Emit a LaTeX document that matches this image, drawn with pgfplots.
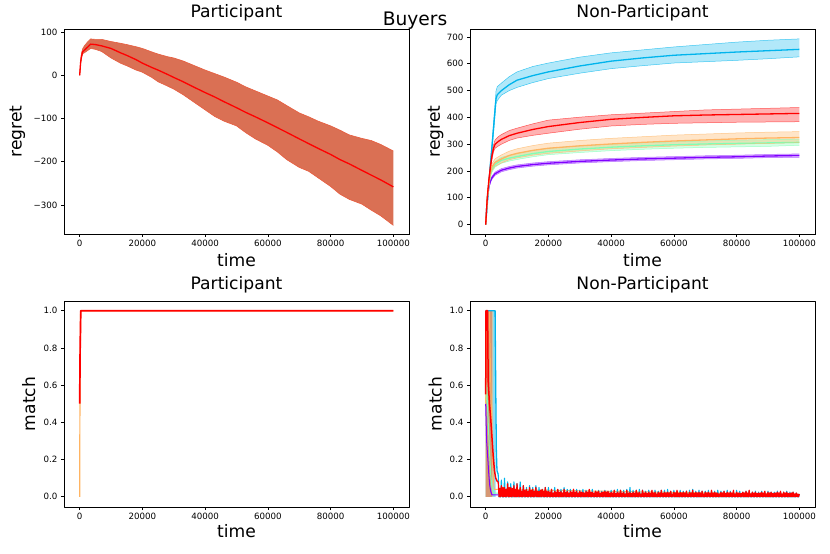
\documentclass[border=0pt]{standalone}
\usepackage{pgfplots}
\pgfplotsset{compat=1.18}
\usepackage{pgfplotstable}
\usepgfplotslibrary{fillbetween}
\usepackage{fontspec}
\setmainfont{DejaVu Sans}

\definecolor{cpur}{RGB}{128,0,255}
\definecolor{cblu}{RGB}{0,180,236}
\definecolor{cgrn}{RGB}{128,255,180}
\definecolor{corg}{RGB}{255,180,98}
\definecolor{cred}{RGB}{255,0,0}
\definecolor{cband}{RGB}{218,112,84}
\definecolor{cedge}{RGB}{232,92,62}

\pgfplotstableread{
t m lo hi
0 0 0 0
300 30 25 35
600 45 40 52
1000 55 50 62
1500 58 52 68
2500 65 57 77
3500 72 62 84
5000 71 60 83
7000 68 55 83
10000 62 40 78
13000 52 28 74
15000 46 22 71
18000 36 12 66
20000 28 7 62
23000 18 -5 54
25000 12 -15 49
28000 2 -25 43
30000 -5 -32 40
33000 -15 -45 33
36000 -26 -60 24
40000 -40 -80 12
43000 -50 -95 4
46000 -61 -106 -4
50000 -75 -117 -16
53000 -86 -133 -27
56000 -96 -147 -36
60000 -110 -162 -48
63000 -121 -177 -57
66000 -132 -195 -70
70000 -147 -213 -87
73000 -158 -222 -96
76000 -169 -237 -106
80000 -183 -257 -117
83000 -195 -275 -127
86000 -205 -287 -138
90000 -220 -298 -146
93000 -231 -312 -151
96000 -242 -325 -160
100000 -258 -347 -175
}\tlp

\pgfplotstableread{
t m lo hi
0 0 0 0
250 50 48 52
500 90 86 94
1000 140 135 145
1500 162 156 168
2000 175 169 181
3000 190 184 196
5000 203 197 209
7500 211 205 217
10000 217 211 223
15000 224 218 230
20000 229 223 235
30000 236 230 242
40000 241 235 247
50000 245 239 251
60000 248 242 254
70000 251 245 257
80000 253 247 259
90000 256 250 262
100000 258 251 264
}\tpur

\pgfplotstableread{
t m lo hi
0 0 0 0
500 75 70 80
1000 150 140 160
1500 225 212 238
2000 290 275 305
2500 360 340 380
3000 430 410 450
3300 470 452 500
3700 485 463 515
5000 500 483 528
7500 522 500 552
10000 539 512 570
15000 556 530 590
20000 570 545 603
30000 592 565 625
40000 610 582 641
50000 622 593 652
60000 632 603 663
70000 638 608 672
80000 644 613 681
90000 649 619 688
100000 654 626 693
}\tblu

\pgfplotstableread{
t m lo hi
0 0 0 0
250 50 48 52
500 95 90 100
1000 150 143 157
1500 185 177 193
2000 205 196 214
3000 225 215 235
5000 240 229 251
7500 248 237 259
10000 254 243 265
15000 265 253 277
20000 273 261 285
30000 282 269 294
40000 289 276 300
50000 294 281 305
60000 298 285 309
70000 301 288 312
80000 303 290 315
90000 305 292 317
100000 307 296 319
}\tgrn

\pgfplotstableread{
t m lo hi
0 0 0 0
250 50 48 52
500 95 90 100
1000 155 147 163
1500 195 185 205
2000 215 203 227
3000 232 218 246
5000 245 230 260
7500 258 242 274
10000 266 249 283
15000 277 259 295
20000 285 266 304
30000 294 275 314
40000 301 283 322
50000 307 288 328
60000 312 293 334
70000 316 297 338
80000 320 300 342
90000 323 303 345
100000 325 306 347
}\torg

\pgfplotstableread{
t m lo hi
0 0 0 0
250 50 48 52
500 100 95 105
1000 165 157 173
1500 215 205 225
2000 255 243 267
2500 285 272 298
3000 300 285 316
4000 310 293 328
5000 318 300 336
7500 332 314 351
10000 341 323 360
15000 355 333 376
20000 366 341 390
30000 381 356 401
40000 393 368 410
50000 400 374 416
60000 406 378 422
70000 409 380 428
80000 411 382 431
90000 413 383 434
100000 415 384 437
}\tred

\pgfplotstableread{
t r b
4000 0.08 0.12
4250 0 0
4500 0.045 0
4750 0 0
5000 0.06 0.09
5250 0 0
5500 0.05 0
5750 0 0
6000 0.05 0.10
6250 0 0
6500 0.04 0
6750 0 0
7000 0.07 0.08
7250 0 0
7500 0.05 0
7750 0 0
8000 0.05 0.07
8250 0 0
8500 0.045 0
8750 0 0
9000 0.06 0.08
9250 0 0
9500 0.04 0
9750 0 0
10000 0.07 0.07
10250 0 0
10500 0.035 0
10750 0 0
11000 0.05 0.08
11250 0 0
11500 0.03 0
11750 0 0
12000 0.06 0.06
12250 0 0
12500 0.035 0
12750 0 0
13000 0.04 0.05
13250 0 0
13500 0.03 0
13750 0 0
14000 0.05 0.06
14250 0 0
14500 0.035 0
14750 0 0
15000 0.04 0.05
15250 0 0
15500 0.03 0
15750 0 0
16000 0.05 0.06
16250 0 0
16500 0.03 0
16750 0 0
17000 0.03 0.05
17250 0 0
17500 0.035 0
17750 0 0
18000 0.04 0.04
18250 0 0
18500 0.03 0
18750 0 0
19000 0.05 0.05
19250 0 0
19500 0.03 0
19750 0 0
20000 0.03 0.05
20250 0 0
20500 0.025 0
20750 0 0
21000 0.04 0.04
21250 0 0
21500 0.02 0
21750 0 0
22000 0.03 0.05
22250 0 0
22500 0.025 0
22750 0 0
23000 0.04 0.04
23250 0 0
23500 0.025 0
23750 0 0
24000 0.03 0.04
24250 0 0
24500 0.02 0
24750 0 0
25000 0.04 0.05
25250 0 0
25500 0.025 0
25750 0 0
26000 0.03 0.04
26250 0 0
26500 0.02 0
26750 0 0
27000 0.03 0.04
27250 0 0
27500 0.025 0
27750 0 0
28000 0.04 0.035
28250 0 0
28500 0.025 0
28750 0 0
29000 0.03 0.04
29250 0 0
29500 0.02 0
29750 0 0
30000 0.03 0.035
30250 0 0
30500 0.025 0
30750 0 0
31000 0.025 0.04
31250 0 0
31500 0.02 0
31750 0 0
32000 0.03 0.035
32250 0 0
32500 0.025 0
32750 0 0
33000 0.04 0.03
33250 0 0
33500 0.025 0
33750 0 0
34000 0.025 0.04
34250 0 0
34500 0.02 0
34750 0 0
35000 0.03 0.03
35250 0 0
35500 0.025 0
35750 0 0
36000 0.03 0.035
36250 0 0
36500 0.02 0
36750 0 0
37000 0.025 0.03
37250 0 0
37500 0.025 0
37750 0 0
38000 0.03 0.035
38250 0 0
38500 0.025 0
38750 0 0
39000 0.03 0.03
39250 0 0
39500 0.02 0
39750 0 0
40000 0.025 0.035
40250 0 0
40500 0.02 0
40750 0 0
41000 0.035 0.035
41250 0 0
41500 0.018 0
41750 0 0
42000 0.025 0.04
42250 0 0
42500 0.02 0
42750 0 0
43000 0.035 0.035
43250 0 0
43500 0.02 0
43750 0 0
44000 0.025 0.035
44250 0 0
44500 0.015 0
44750 0 0
45000 0.035 0.04
45250 0 0
45500 0.02 0
45750 0 0
46000 0.025 0.05
46250 0 0
46500 0.018 0
46750 0 0
47000 0.025 0.035
47250 0 0
47500 0.02 0
47750 0 0
48000 0.035 0.035
48250 0 0
48500 0.02 0
48750 0 0
49000 0.025 0.04
49250 0 0
49500 0.015 0
49750 0 0
50000 0.035 0.035
50250 0 0
50500 0.02 0
50750 0 0
51000 0.025 0.03
51250 0 0
51500 0.018 0
51750 0 0
52000 0.025 0.035
52250 0 0
52500 0.02 0
52750 0 0
53000 0.035 0.03
53250 0 0
53500 0.02 0
53750 0 0
54000 0.025 0.035
54250 0 0
54500 0.015 0
54750 0 0
55000 0.025 0.03
55250 0 0
55500 0.02 0
55750 0 0
56000 0.035 0.035
56250 0 0
56500 0.018 0
56750 0 0
57000 0.025 0.035
57250 0 0
57500 0.02 0
57750 0 0
58000 0.025 0.04
58250 0 0
58500 0.02 0
58750 0 0
59000 0.03 0.03
59250 0 0
59500 0.015 0
59750 0 0
60000 0.025 0.035
60250 0 0
60500 0.02 0
60750 0 0
61000 0.035 0.03
61250 0 0
61500 0.018 0
61750 0 0
62000 0.025 0.035
62250 0 0
62500 0.02 0
62750 0 0
63000 0.025 0.03
63250 0 0
63500 0.02 0
63750 0 0
64000 0.03 0.03
64250 0 0
64500 0.015 0
64750 0 0
65000 0.025 0.035
65250 0 0
65500 0.02 0
65750 0 0
66000 0.035 0.04
66250 0 0
66500 0.018 0
66750 0 0
67000 0.025 0.03
67250 0 0
67500 0.02 0
67750 0 0
68000 0.025 0.035
68250 0 0
68500 0.02 0
68750 0 0
69000 0.03 0.03
69250 0 0
69500 0.015 0
69750 0 0
70000 0.025 0.03
70250 0 0
70500 0.02 0
70750 0 0
71000 0.025 0.035
71250 0 0
71500 0.018 0
71750 0 0
72000 0.035 0.03
72250 0 0
72500 0.02 0
72750 0 0
73000 0.025 0.03
73250 0 0
73500 0.02 0
73750 0 0
74000 0.02 0.035
74250 0 0
74500 0.015 0
74750 0 0
75000 0.025 0.03
75250 0 0
75500 0.02 0
75750 0 0
76000 0.03 0.03
76250 0 0
76500 0.018 0
76750 0 0
77000 0.025 0.035
77250 0 0
77500 0.02 0
77750 0 0
78000 0.025 0.03
78250 0 0
78500 0.02 0
78750 0 0
79000 0.035 0.025
79250 0 0
79500 0.015 0
79750 0 0
80000 0.025 0.035
80250 0 0
80500 0.02 0
80750 0 0
81000 0.02 0.03
81250 0 0
81500 0.018 0
81750 0 0
82000 0.025 0.025
82250 0 0
82500 0.02 0
82750 0 0
83000 0.03 0.03
83250 0 0
83500 0.02 0
83750 0 0
84000 0.035 0.03
84250 0 0
84500 0.015 0
84750 0 0
85000 0.025 0.025
85250 0 0
85500 0.02 0
85750 0 0
86000 0.025 0.03
86250 0 0
86500 0.018 0
86750 0 0
87000 0.02 0.025
87250 0 0
87500 0.02 0
87750 0 0
88000 0.025 0.03
88250 0 0
88500 0.02 0
88750 0 0
89000 0.03 0.025
89250 0 0
89500 0.015 0
89750 0 0
90000 0.025 0.03
90250 0 0
90500 0.02 0
90750 0 0
91000 0.025 0.025
91250 0 0
91500 0.018 0
91750 0 0
92000 0.02 0.025
92250 0 0
92500 0.02 0
92750 0 0
93000 0.025 0.03
93250 0 0
93500 0.02 0
93750 0 0
94000 0.03 0.025
94250 0 0
94500 0.015 0
94750 0 0
95000 0.025 0.025
95250 0 0
95500 0.02 0
95750 0 0
96000 0.025 0.03
96250 0 0
96500 0.018 0
96750 0 0
97000 0.02 0.025
97250 0 0
97500 0.02 0
97750 0 0
98000 0.025 0.025
98250 0 0
98500 0.015 0
98750 0 0
99000 0.02 0.02
99250 0 0
99500 0.015 0
99750 0 0
100000 0.015 0.015
}\tnoise

\pgfplotsset{
  base/.style={
    scale only axis, width=345bp,
    xmin=-5000, xmax=105000,
    tick pos=left, tick align=outside, major tick length=3bp,
    every tick/.style={black, line width=0.7bp},
    axis line style={black, line width=0.7bp},
    tick label style={font=\fontsize{8.7}{10}\selectfont, black},
    /pgf/number format/assume math mode=true,
    xtick={0,20000,40000,60000,80000,100000},
    xticklabels={0,20000,40000,60000,80000,100000},
    scaled x ticks=false, scaled y ticks=false,
    label style={font=\fontsize{17.2}{20}\selectfont},
    title style={font=\fontsize{17.2}{20}\selectfont, anchor=base, at={(axis description cs:0.5,1.026)}},
  },
  toprow/.style={height=205bp, xlabel style={at={(axis description cs:0.5,-0.16)}, anchor=base}},
  botrow/.style={height=206bp, xlabel style={at={(axis description cs:0.5,-0.15)}, anchor=base},
    ymin=-0.055, ymax=1.052, ytick={0,0.2,0.4,0.6,0.8,1.0},
    yticklabels={0.0,0.2,0.4,0.6,0.8,1.0}},
}

\begin{document}
\begin{tikzpicture}[line join=round]

% ---------- top left ----------
\begin{axis}[base, toprow, at={(64bp,320bp)}, anchor=south west,
  ymin=-367, ymax=107, ytick={-300,-200,-100,0,100},
  yticklabels={−300,−200,−100,0,100},
  title={Participant}, xlabel={time}, ylabel={regret},
  ylabel style={at={(axis description cs:-0.123,0.5)}, anchor=base}]
\addplot[name path=U, draw=none] table[x=t,y=hi]{\tlp};
\addplot[name path=L, draw=none] table[x=t,y=lo]{\tlp};
\addplot[fill=cband, draw=none] fill between[of=U and L];
\addplot[cedge, line width=0.6bp] table[x=t,y=hi]{\tlp};
\addplot[cedge, line width=0.6bp] table[x=t,y=lo]{\tlp};
\addplot[cred, line width=1.3bp] table[x=t,y=m]{\tlp};
\end{axis}

% ---------- top right ----------
\begin{axis}[base, toprow, at={(470bp,320bp)}, anchor=south west,
  ymin=-35, ymax=730, ytick={0,100,200,300,400,500,600,700},
  yticklabels={0,100,200,300,400,500,600,700},
  title={Non-Participant}, xlabel={time}, ylabel={regret},
  ylabel style={at={(axis description cs:-0.0875,0.5)}, anchor=base}]
% purple
\addplot[name path=PU, draw=none] table[x=t,y=hi]{\tpur};
\addplot[name path=PL, draw=none] table[x=t,y=lo]{\tpur};
\addplot[fill=cpur, fill opacity=0.3, draw=none] fill between[of=PU and PL];
\addplot[cpur, opacity=0.5, line width=0.5bp] table[x=t,y=hi]{\tpur};
\addplot[cpur, opacity=0.5, line width=0.5bp] table[x=t,y=lo]{\tpur};
\addplot[cpur, line width=1.3bp] table[x=t,y=m]{\tpur};
% blue
\addplot[name path=BU, draw=none] table[x=t,y=hi]{\tblu};
\addplot[name path=BL, draw=none] table[x=t,y=lo]{\tblu};
\addplot[fill=cblu, fill opacity=0.3, draw=none] fill between[of=BU and BL];
\addplot[cblu, opacity=0.7, line width=0.5bp] table[x=t,y=hi]{\tblu};
\addplot[cblu, opacity=0.7, line width=0.5bp] table[x=t,y=lo]{\tblu};
\addplot[cblu, line width=1.3bp] table[x=t,y=m]{\tblu};
% green
\addplot[name path=GU, draw=none] table[x=t,y=hi]{\tgrn};
\addplot[name path=GL, draw=none] table[x=t,y=lo]{\tgrn};
\addplot[fill=cgrn, fill opacity=0.35, draw=none] fill between[of=GU and GL];
\addplot[cgrn, opacity=0.7, line width=0.5bp] table[x=t,y=hi]{\tgrn};
\addplot[cgrn, opacity=0.7, line width=0.5bp] table[x=t,y=lo]{\tgrn};
\addplot[cgrn, line width=1.3bp] table[x=t,y=m]{\tgrn};
% orange
\addplot[name path=OU, draw=none] table[x=t,y=hi]{\torg};
\addplot[name path=OL, draw=none] table[x=t,y=lo]{\torg};
\addplot[fill=corg, fill opacity=0.35, draw=none] fill between[of=OU and OL];
\addplot[corg, opacity=0.7, line width=0.5bp] table[x=t,y=hi]{\torg};
\addplot[corg, opacity=0.7, line width=0.5bp] table[x=t,y=lo]{\torg};
\addplot[corg, line width=1.3bp] table[x=t,y=m]{\torg};
% red
\addplot[name path=RU, draw=none] table[x=t,y=hi]{\tred};
\addplot[name path=RL, draw=none] table[x=t,y=lo]{\tred};
\addplot[fill=cred, fill opacity=0.3, draw=none] fill between[of=RU and RL];
\addplot[cred, opacity=0.6, line width=0.5bp] table[x=t,y=hi]{\tred};
\addplot[cred, opacity=0.6, line width=0.5bp] table[x=t,y=lo]{\tred};
\addplot[cred, line width=1.3bp] table[x=t,y=m]{\tred};
\end{axis}

% ---------- bottom left ----------
\begin{axis}[base, botrow, at={(64bp,47bp)}, anchor=south west,
  title={Participant}, xlabel={time}, ylabel={match},
  ylabel style={at={(axis description cs:-0.084,0.5)}, anchor=base}]
\addplot[corg, line width=1.2bp] coordinates {(0,0) (80,0.5) (300,1) (100000,1)};
\addplot[cred, line width=1.7bp] coordinates {(0,0.5) (150,0.8) (350,1) (100000,1)};
\end{axis}

% ---------- bottom right ----------
\begin{axis}[base, botrow, at={(470bp,47bp)}, anchor=south west,
  title={Non-Participant}, xlabel={time}, ylabel={match},
  ylabel style={at={(axis description cs:-0.082,0.5)}, anchor=base}]
\addplot[fill=cblu, fill opacity=0.45, draw=none] coordinates {(0,0) (0,1) (3200,1) (3200,0)} \closedcycle;
\addplot[fill=cgrn, fill opacity=0.35, draw=none] coordinates {(0,0) (0,1) (1800,1) (1800,0)} \closedcycle;
\addplot[fill=corg, fill opacity=0.55, draw=none] coordinates {(0,0) (0,1) (2400,1) (2400,0)} \closedcycle;
\addplot[fill=cred, fill opacity=0.25, draw=none] coordinates {(0,0) (0,1) (2000,1) (2000,0)} \closedcycle;
\addplot[cpur, line width=1bp] coordinates {(0,0.5) (300,0.3) (700,0.2) (1000,0.12) (1300,0.06) (1600,0.03) (2000,0.01) (100000,0.005)};
\addplot[cgrn, line width=1bp] coordinates {(0,0.5) (300,0.6) (800,0.4) (1200,0.25) (1600,0.12) (2000,0.05) (2500,0.02) (100000,0.01)};
\addplot[corg, line width=1bp] coordinates {(0,0.5) (300,1) (1200,1) (1500,0.7) (1900,0.4) (2300,0.15) (2700,0.04) (100000,0.012)};
\addplot[cblu, line width=1.3bp] coordinates {(0,1) (3000,1) (3200,0.6) (3400,0.25) (3600,0.14) (4000,0.12)};
\addplot[cblu, line width=1.1bp, line join=round] table[x=t,y=b]{\tnoise};
\addplot[cred, line width=1.5bp] coordinates {(0,0.55) (100,1) (600,1) (800,0.62) (1200,0.5) (1600,0.42) (2000,0.32) (2400,0.22) (2800,0.14) (3200,0.1) (3600,0.085) (4000,0.08)};
\addplot[cred, line width=1.2bp, line join=round] table[x=t,y=r]{\tnoise};
\end{axis}

\node[anchor=base, font=\fontsize{18.7}{22}\selectfont] at (415bp,528.3bp) {Buyers};
\pgfresetboundingbox
\useasboundingbox (0,0) rectangle (830bp,554bp);
\end{tikzpicture}
\end{document}
